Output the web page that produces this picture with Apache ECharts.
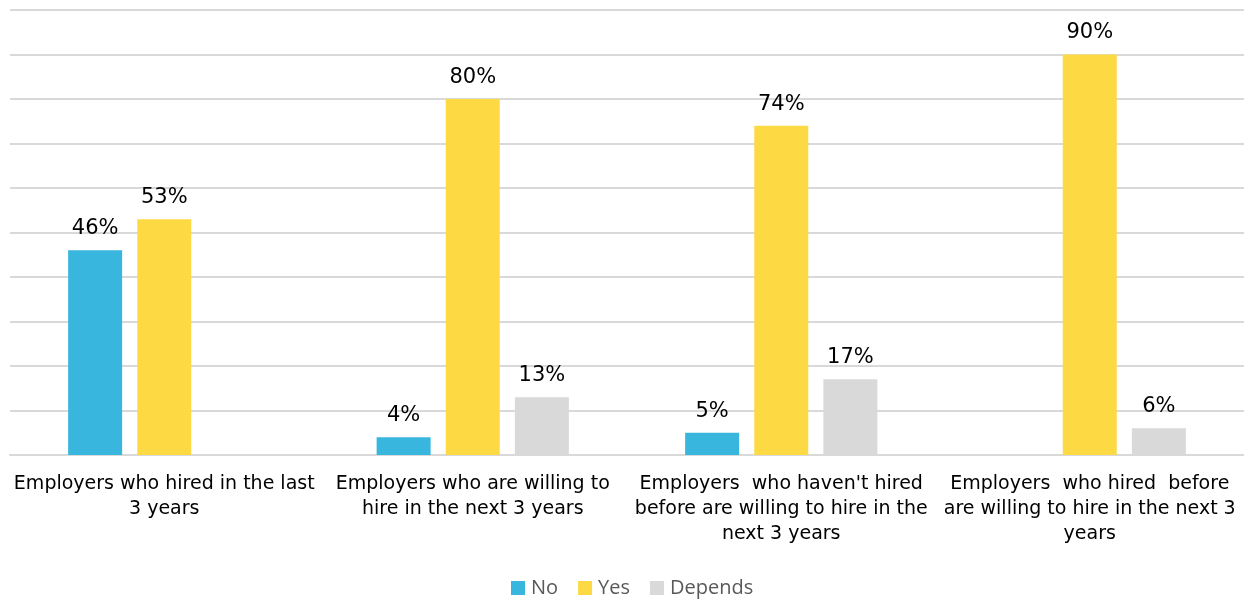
<!DOCTYPE html>
<html>
<head>
<meta charset="utf-8">
<script src="https://cdn.jsdelivr.net/npm/echarts@6/dist/echarts.min.js"></script>
<style>
  html, body { margin: 0; padding: 0; background: #fff; }
  #chart { width: 1244px; height: 599px; }
</style>
</head>
<body>
<div id="chart"></div>
<script>
// Hiring survey: share of employers answering No / Yes / Depends
const categories = [
  "Employers who hired in the last\n3 years",
  "Employers who are willing to\nhire in the next 3 years",
  "Employers  who haven't hired\nbefore are willing to hire in the\nnext 3 years",
  "Employers  who hired  before\nare willing to hire in the next 3\nyears"
];
const seriesNames = ["No", "Yes", "Depends"];
const noValues = [46, 4, 5, null];
const yesValues = [53, 80, 74, 90];
const dependsValues = [null, 13, 17, 6];
const colors = ["#38B6DE", "#FDDA44", "#D9D9D9"];

const chart = echarts.init(document.getElementById('chart'), null, { renderer: 'canvas' });

const labelFont = 'DejaVu Sans, Verdana, sans-serif';

function makeSeries(name, data, color) {
  return {
    name: name,
    type: 'bar',
    data: data,
    barWidth: 54,
    barGap: '28%',
    itemStyle: { color: color },
    label: {
      show: true,
      position: 'top',
      distance: 11,
      formatter: p => p.value + '%',
      color: '#000',
      fontFamily: labelFont,
      fontSize: 21
    }
  };
}

chart.setOption({
  animation: false,
  grid: { left: 10, right: 0, top: 10, bottom: 144, containLabel: false },
  legend: {
    data: seriesNames,
    top: 573,
    left: 506,
    itemWidth: 14,
    itemHeight: 14,
    itemGap: 20,
    icon: 'rect',
    textStyle: { color: '#595959', fontFamily: 'Open Sans, sans-serif', fontSize: 20, padding: [0, 0, 0, 1] }
  },
  xAxis: {
    type: 'category',
    data: categories,
    axisLine: { show: true, lineStyle: { color: '#D9D9D9', width: 2 } },
    axisTick: { show: false },
    axisLabel: {
      color: '#000',
      fontFamily: labelFont,
      fontSize: 19,
      lineHeight: 25,
      margin: 17,
      interval: 0
    }
  },
  yAxis: {
    type: 'value',
    min: 0,
    max: 100,
    interval: 10,
    axisLabel: { show: false },
    axisLine: { show: false },
    axisTick: { show: false },
    splitLine: { lineStyle: { color: '#D9D9D9', width: 2 } }
  },
  series: [
    makeSeries(seriesNames[0], noValues, colors[0]),
    makeSeries(seriesNames[1], yesValues, colors[1]),
    makeSeries(seriesNames[2], dependsValues, colors[2])
  ]
});
</script>
</body>
</html>
